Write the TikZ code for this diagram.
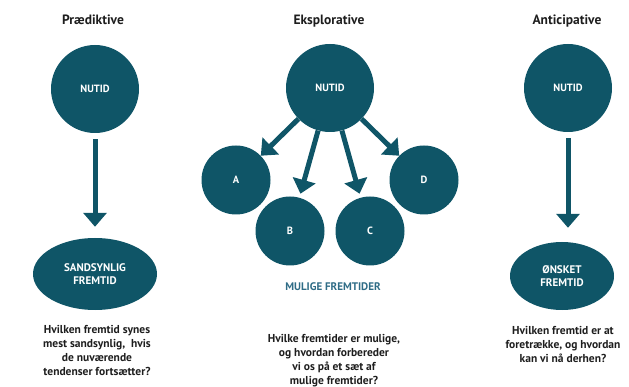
\documentclass[tikz,border=0pt]{standalone}
\usepackage{fontspec}
\setmainfont{PT Sans}
\usetikzlibrary{arrows.meta,shapes.geometric}
\definecolor{teal1}{HTML}{0F5567}
\definecolor{lbl}{HTML}{2F6C86}
\definecolor{txt}{HTML}{1E1E1E}
\tikzset{
  title/.style={font=\bfseries\fontsize{13.5}{15}\selectfont, text=txt},
  bignode/.style={circle, fill=teal1, minimum size=88pt, inner sep=0pt, text=white, font=\bfseries\fontsize{10.5}{12}\selectfont},
  smallnode/.style={circle, fill=teal1, minimum size=69pt, inner sep=0pt, text=white, font=\bfseries\fontsize{10.5}{12}\selectfont},
  endnode/.style={ellipse, fill=teal1, inner sep=0pt, text=white, align=center, font=\bfseries\fontsize{11}{13.5}\selectfont},
  question/.style={align=center, text=txt, font=\bfseries\fontsize{11.5}{14}\selectfont, inner sep=0pt},
  arr/.style={draw=teal1, line width=5pt, -{Triangle[width=23pt,length=14pt]}},
}
\begin{document}
\begin{tikzpicture}[x=1pt,y=-1pt]
\useasboundingbox (0,0) rectangle (629,387);
% titles
\node[title] (t1) at (93,20) {Prædiktive};
\node[title] (t2) at (329,21) {Eksplorative};
\node[title] (t3) at (567,21) {Anticipative};
% left column
\node[bignode] (n1) at (95,89) {NUTID};
\node[endnode, minimum width=124pt, minimum height=72pt] (e1) at (95,274) {SANDSYNLIG\\FREMTID};
\draw[arr, shorten <=6pt, shorten >=11pt] (n1.south) -- (n1.south |- e1.north);
\node[question] (q1) at (97,350) {Hvilken fremtid synes\\mest sandsynlig,\ \ hvis\\de nuværende\\tendenser fortsætter?};
% middle column
\node[bignode] (n2) at (330,88) {NUTID};
\node[smallnode] (a) at (236,180) {A};
\node[smallnode] (b) at (290,231) {B};
\node[smallnode] (c) at (370,231) {C};
\node[smallnode] (d) at (424,180) {D};
\draw[arr] (n2) -- (a);
\draw[arr, shorten >=4pt] (n2) -- (b);
\draw[arr, shorten >=4pt] (n2) -- (c);
\draw[arr] (n2) -- (d);
\node[text=lbl, font=\bfseries\fontsize{11}{13}\selectfont] (m) at (333,287) {MULIGE FREMTIDER};
\node[question] (q2) at (334,361) {Hvilke fremtider er mulige,\\og hvordan forbereder\\vi os på et sæt af\\mulige fremtider?};
% right column
\node[bignode] (n3) at (568,88) {NUTID};
\node[endnode, minimum width=104pt, minimum height=68pt] (e3) at (562,276) {ØNSKET\\FREMTID};
\draw[arr, shorten <=6pt, shorten >=14pt] (n3.south) -- (n3.south |- e3.north);
\node[question] (q3) at (563,344) {Hvilken fremtid er at\\foretrække, og hvordan\\kan vi nå derhen?};
\end{tikzpicture}
\end{document}
